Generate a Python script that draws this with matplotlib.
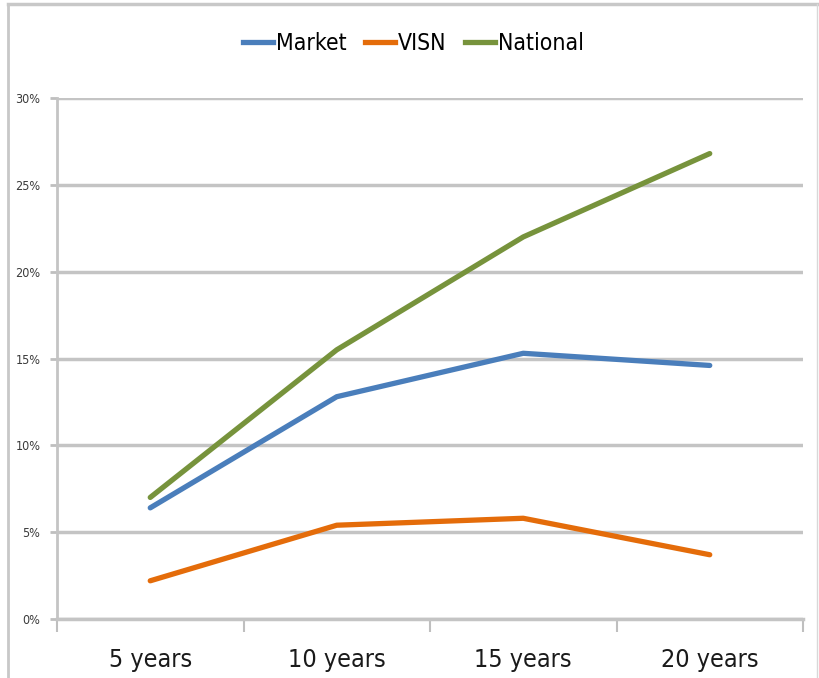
import matplotlib
matplotlib.use("Agg")
import matplotlib.pyplot as plt
from matplotlib.lines import Line2D
from matplotlib.ticker import PercentFormatter
from matplotlib import font_manager as fm

categories = ["5 years", "10 years", "15 years", "20 years"]
market = [6.4, 12.8, 15.3, 14.6]
visn = [2.2, 5.4, 5.8, 3.7]
national = [7.0, 15.5, 22.0, 26.8]
series_names = ["Market", "VISN", "National"]
colors = ["#4A7EBB", "#E46C0A", "#77933C"]
yticks = [0, 5, 10, 15, 20, 25, 30]

# find a condensed font if available
cands = [f for f in fm.fontManager.ttflist
         if ("Narrow" in f.name or "Condensed" in f.name or "condensed" in str(f.stretch))]
pref = None
for f in cands:
    if "Liberation Sans Narrow" in f.name and f.weight in (400, "normal") and f.style == "normal":
        pref = f
        break
if pref is None:
    for f in cands:
        if f.style == "normal" and f.weight in (400, "normal"):
            pref = f
            break
if pref is not None:
    fp_base = fm.FontProperties(fname=pref.fname)
else:
    fp_base = fm.FontProperties(family="DejaVu Sans", stretch="condensed")

def fp(size):
    p = fp_base.copy()
    p.set_size(size)
    return p

fig = plt.figure(figsize=(8.19, 6.78), dpi=100)
ax = fig.add_axes([57/819, 1-619/678, 746/819, (619-98)/678])

x = [i + 0.5 for i in range(len(categories))]
for vals, name, c in zip([market, visn, national], series_names, colors):
    ax.plot(x, vals, color=c, lw=3.8, label=name, solid_capstyle="round", zorder=3)

ax.set_xlim(0, len(categories))
ax.set_ylim(0, 30)
ax.set_yticks(yticks)
ax.yaxis.set_major_formatter(PercentFormatter(decimals=0))
ax.set_xticks(range(len(categories) + 1))
ax.set_xticklabels([])
ax.set_xticks(x, minor=True)
ax.set_xticklabels(categories, minor=True, fontproperties=fp(18), color="#1a1a1a")
ax.tick_params(axis="x", which="minor", length=0, pad=21)
ax.tick_params(axis="x", which="major", length=9, width=1.5, color="#bfbfbf", direction="out")
ax.tick_params(axis="y", length=5, width=2, color="#bfbfbf", labelcolor="#3a3a3a", pad=7)
for t in ax.get_yticklabels():
    t.set_fontproperties(fp(9))

ax.grid(axis="y", color="#c4c4c4", lw=2.5, zorder=1)
for s in ["top", "right"]:
    ax.spines[s].set_visible(False)
ax.spines["left"].set_color("#c4c4c4")
ax.spines["left"].set_linewidth(2)
ax.spines["bottom"].set_color("#c4c4c4")
ax.spines["bottom"].set_linewidth(2.5)

handles = [Line2D([0], [0], color=c, lw=3.8) for c in colors]
fig.legend(handles, series_names, loc="center", bbox_to_anchor=(0.505, 1-44/678), ncol=3,
           frameon=False, prop=fp(16.5), handlelength=1.3,
           handletextpad=0.15, columnspacing=0.8)

# outer frame
fig.add_artist(Line2D([8/819, 8/819], [0, 1-4/678], transform=fig.transFigure, color="#c8c8c8", lw=2))
fig.add_artist(Line2D([8/819, 817/819], [1-4/678, 1-4/678], transform=fig.transFigure, color="#c8c8c8", lw=2.5))
fig.add_artist(Line2D([817/819, 817/819], [0, 1-4/678], transform=fig.transFigure, color="#d8d8d8", lw=1))

fig.savefig("out.png", dpi=100)
